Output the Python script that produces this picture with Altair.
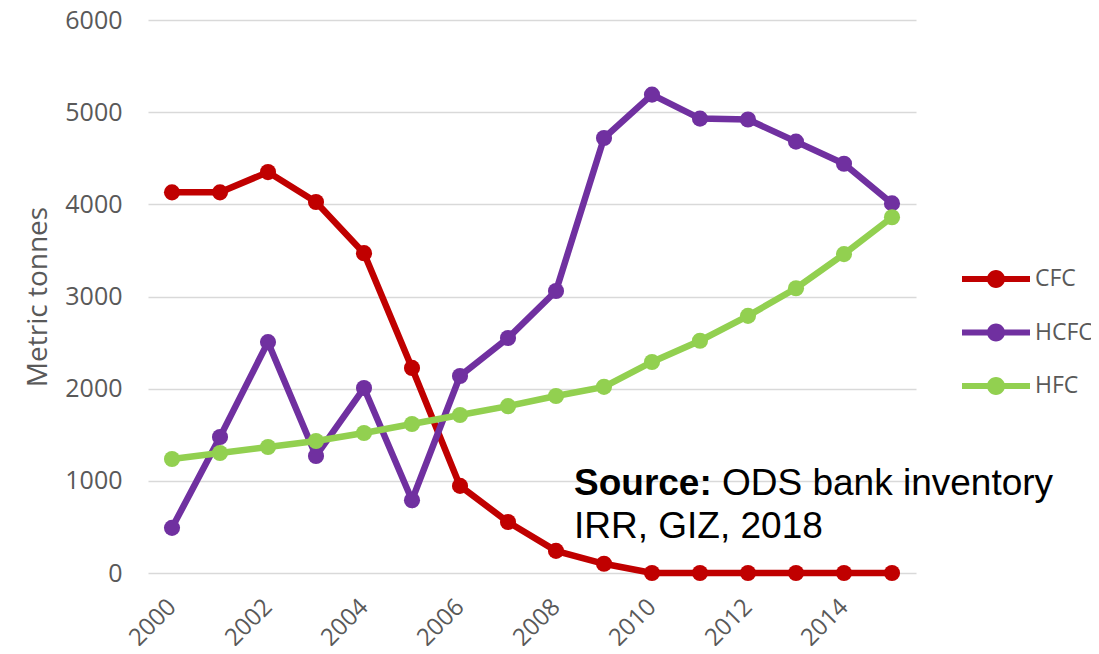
import altair as alt
import pandas as pd

years = list(range(2000, 2016))
cfc = [4130, 4130, 4350, 4025, 3470, 2225, 945, 553, 240, 100, 0, 0, 0, 0, 0, 0]
hcfc = [490, 1475, 2505, 1270, 2007, 790, 2137, 2550, 3060, 4720, 5190, 4930, 4920, 4680, 4440, 4010]
hfc = [1237, 1302, 1367, 1432, 1519, 1617, 1714, 1810, 1920, 2020, 2290, 2520, 2790, 3090, 3460, 3860]
series = ["CFC", "HCFC", "HFC"]
colors = ["#C00000", "#7030A0", "#92D050"]
x_ticks = [2000, 2002, 2004, 2006, 2008, 2010, 2012, 2014]
y_ticks = [0, 1000, 2000, 3000, 4000, 5000, 6000]

rows = []
for name, vals in zip(series, [cfc, hcfc, hfc]):
    for yr, v in zip(years, vals):
        rows.append({"Year": yr, "Value": v, "Series": name})
df = pd.DataFrame(rows)

GRAY = "#595959"
FONT = "Open Sans"

xenc = alt.X("Year:Q",
             scale=alt.Scale(domain=[1999.5, 2015.5], nice=False, zero=False),
             axis=alt.Axis(values=x_ticks, format="d", labelAngle=-45, grid=False,
                           domain=False, ticks=False, tickSize=0, labelPadding=30,
                           labelFontSize=24, labelFont=FONT, labelColor=GRAY,
                           labelAlign="right", labelBaseline="middle", title=None))
yenc = alt.Y("Value:Q",
             scale=alt.Scale(domain=[0, 6000], nice=False),
             axis=alt.Axis(values=y_ticks, format="d", grid=True, gridColor="#d9d9d9", gridWidth=1.5,
                           domain=False, ticks=False, tickSize=0, labelPadding=26,
                           labelFontSize=25, labelFont=FONT, labelColor=GRAY,
                           title="Metric tonnes", titleFont=FONT, titleFontSize=28,
                           titleFontWeight="normal", titleColor=GRAY, titlePadding=12))

legend_path = ("M-2,-0.18 L2,-0.18 L2,0.18 L-2,0.18 Z "
               "M0.53,0 A0.53,0.53 0 1,1 -0.53,0 A0.53,0.53 0 1,1 0.53,0 Z")

color_scale = alt.Scale(domain=series, range=colors)
legend = alt.Legend(title=None, orient="none", legendX=831, legendY=242,
                    symbolType=legend_path, symbolSize=1156,
                    symbolStrokeWidth=0, symbolOpacity=1,
                    labelOffset=22, labelFont=FONT, labelFontSize=23,
                    labelColor=GRAY, rowPadding=24.5)
color_enc = alt.Color("Series:N", scale=color_scale, legend=legend)

lines = alt.Chart(df).mark_line(strokeWidth=6.5).encode(x=xenc, y=yenc, color=color_enc)
points = alt.Chart(df).mark_point(filled=True, size=260, opacity=1).encode(x=xenc, y=yenc, color=color_enc)

FS = 37
src_df = pd.DataFrame({"t": ["Source:"]})
src_bold = alt.Chart(src_df).mark_text(font="Liberation Sans", fontSize=FS, fontWeight="bold",
                                       align="left", baseline="alphabetic", color="black").encode(
    text="t:N", x=alt.value(426), y=alt.value(475))
src_df2 = pd.DataFrame({"t": ["ODS bank inventory"]})
src_rest = alt.Chart(src_df2).mark_text(font="Liberation Sans", fontSize=FS,
                                        align="left", baseline="alphabetic", color="black").encode(
    text="t:N", x=alt.value(574), y=alt.value(475))
src_df3 = pd.DataFrame({"t": ["IRR, GIZ, 2018"]})
src_line2 = alt.Chart(src_df3).mark_text(font="Liberation Sans", fontSize=FS,
                                         align="left", baseline="alphabetic", color="black").encode(
    text="t:N", x=alt.value(426), y=alt.value(518))

chart = alt.layer(lines, points, src_bold, src_rest, src_line2).properties(
    width=768, height=553,
    autosize=alt.AutoSizeParams(type="none"),
    padding={"left": 140, "top": 12, "right": 175, "bottom": 73},
).configure(background="white").configure_view(strokeWidth=0, stroke="transparent")

chart.save("out.html", embed_options={"renderer": "svg", "actions": False})
